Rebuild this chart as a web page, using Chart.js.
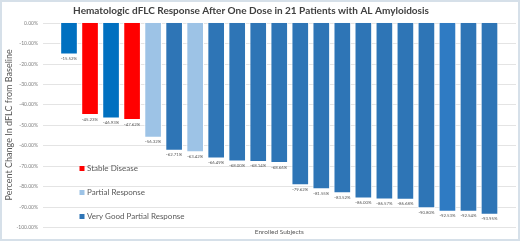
<!DOCTYPE html>
<html>
<head>
<meta charset="utf-8">
<script src="https://cdn.jsdelivr.net/npm/chart.js@4/dist/chart.umd.min.js"></script>
<style>
  html, body { margin: 0; padding: 0; background: #fff; }
  #wrap { width: 520px; height: 241px; box-sizing: border-box; border: 2px solid #d6e0e9; position: relative; }
  #wrap canvas { display: block; }
</style>
</head>
<body>
<div id="wrap"><canvas id="c" width="516" height="237"></canvas></div>
<script>
// Hematologic dFLC response, one bar per enrolled subject

const subjects = ['1', '2', '3', '4', '5', '6', '7', '8', '9', '10', '11',
  '12', '13', '14', '15', '16', '17', '18', '19', '20', '21'];

const dflcChange = [-15.52, -45.23, -46.93, -47.62, -56.32, -62.71, -63.42, -66.49, -68.00, -68.14, -68.66,
  -79.62, -81.55, -83.52, -86.00, -86.57, -86.68, -90.80, -92.53, -92.54, -93.95];

const barColors = ['#0070c0', '#ff0000', '#0070c0', '#ff0000', '#9dc3e6', '#2e75b6', '#9dc3e6',
  '#2e75b6', '#2e75b6', '#2e75b6', '#2e75b6', '#2e75b6', '#2e75b6', '#2e75b6', '#2e75b6',
  '#2e75b6', '#2e75b6', '#2e75b6', '#2f7bc3', '#2e75b6', '#2e75b6'];

const legendLabels = ['Stable Disease', 'Partial Response', 'Very Good Partial Response'];
const legendColors = ['#ff0000', '#9dc3e6', '#2e75b6'];

const yTicks = [0, -10, -20, -30, -40, -50, -60, -70, -80, -90, -100];
const yTickLabels = ['0.00%', '-10.00%', '-20.00%', '-30.00%', '-40.00%', '-50.00%',
  '-60.00%', '-70.00%', '-80.00%', '-90.00%', '-100.00%'];

const xTitle = 'Enrolled Subjects';

const FONT = 'Lato, "Open Sans", sans-serif';

// wide gridlines + tick labels set well away from the bars, like the original
const gridPlugin = {
  id: 'wideGrid',
  beforeDatasetsDraw(chart) {
    const { ctx, scales: { y } } = chart;
    ctx.save();
    ctx.strokeStyle = '#e4e4e4';
    ctx.lineWidth = 1;
    ctx.fillStyle = '#7f7f7f';
    ctx.font = '5px ' + FONT;
    ctx.textAlign = 'right';
    ctx.textBaseline = 'middle';
    yTicks.forEach((v, i) => {
      const py = Math.round(y.getPixelForValue(v)) + 0.5;
      ctx.beginPath();
      ctx.moveTo(41, py);
      ctx.lineTo(514, py);
      ctx.stroke();
      ctx.fillText(yTickLabels[i], 36, py);
    });
    ctx.restore();
  },
};

// value labels under each bar, legend inside the plot, x axis title
const labelPlugin = {
  id: 'barLabels',
  afterDatasetsDraw(chart) {
    const { ctx, chartArea } = chart;
    const meta = chart.getDatasetMeta(0);
    ctx.save();
    ctx.fillStyle = '#595959';
    ctx.font = '4.3px ' + FONT;
    ctx.textAlign = 'center';
    ctx.textBaseline = 'top';
    meta.data.forEach((bar, i) => {
      ctx.fillText(dflcChange[i].toFixed(2) + '%', bar.x, bar.y + 2);
    });

    ctx.font = '6.5px ' + FONT;
    ctx.textBaseline = 'middle';
    ctx.fillText(xTitle, (chartArea.left + chartArea.right) / 2, chartArea.bottom + 5);

    ctx.textAlign = 'left';
    ctx.font = '8px ' + FONT;
    legendLabels.forEach((txt, i) => {
      const cy = 166.5 + i * 24;
      ctx.fillStyle = legendColors[i];
      ctx.fillRect(77.5, cy - 2.5, 5, 5);
      ctx.fillStyle = '#595959';
      ctx.fillText(txt, 85, cy);
    });
    ctx.restore();
  },
};

new Chart(document.getElementById('c'), {
  type: 'bar',
  data: {
    labels: subjects,
    datasets: [{
      label: 'Percent Change In dFLC',
      data: dflcChange,
      backgroundColor: barColors,
      borderColor: '#ffffff',
      borderWidth: 1,
      barPercentage: 0.84,
      categoryPercentage: 1,
    }],
  },
  options: {
    responsive: false,
    animation: false,
    layout: { padding: { left: 0, right: 18, top: 0, bottom: 12 } },
    plugins: {
      legend: { display: false },
      tooltip: { enabled: false },
      title: {
        display: true,
        text: 'Hematologic dFLC Response After One Dose in 21 Patients with AL Amyloidosis',
        color: '#404040',
        font: { family: FONT, size: 10, weight: 'bold', lineHeight: 1.2 },
        padding: { top: 3, bottom: 5.7 },
      },
    },
    scales: {
      x: {
        display: false,
      },
      y: {
        min: -100,
        max: 0,
        grid: { display: false },
        border: { display: false },
        ticks: { display: false, stepSize: 10 },
        title: {
          display: true,
          text: 'Percent Change In dFLC from Baseline',
          color: '#595959',
          font: { family: FONT, size: 9 },
          padding: { top: 2, bottom: 0 },
        },
        afterFit: s => { s.width = 56.5; },
      },
    },
  },
  plugins: [gridPlugin, labelPlugin],
});
</script>
</body>
</html>
